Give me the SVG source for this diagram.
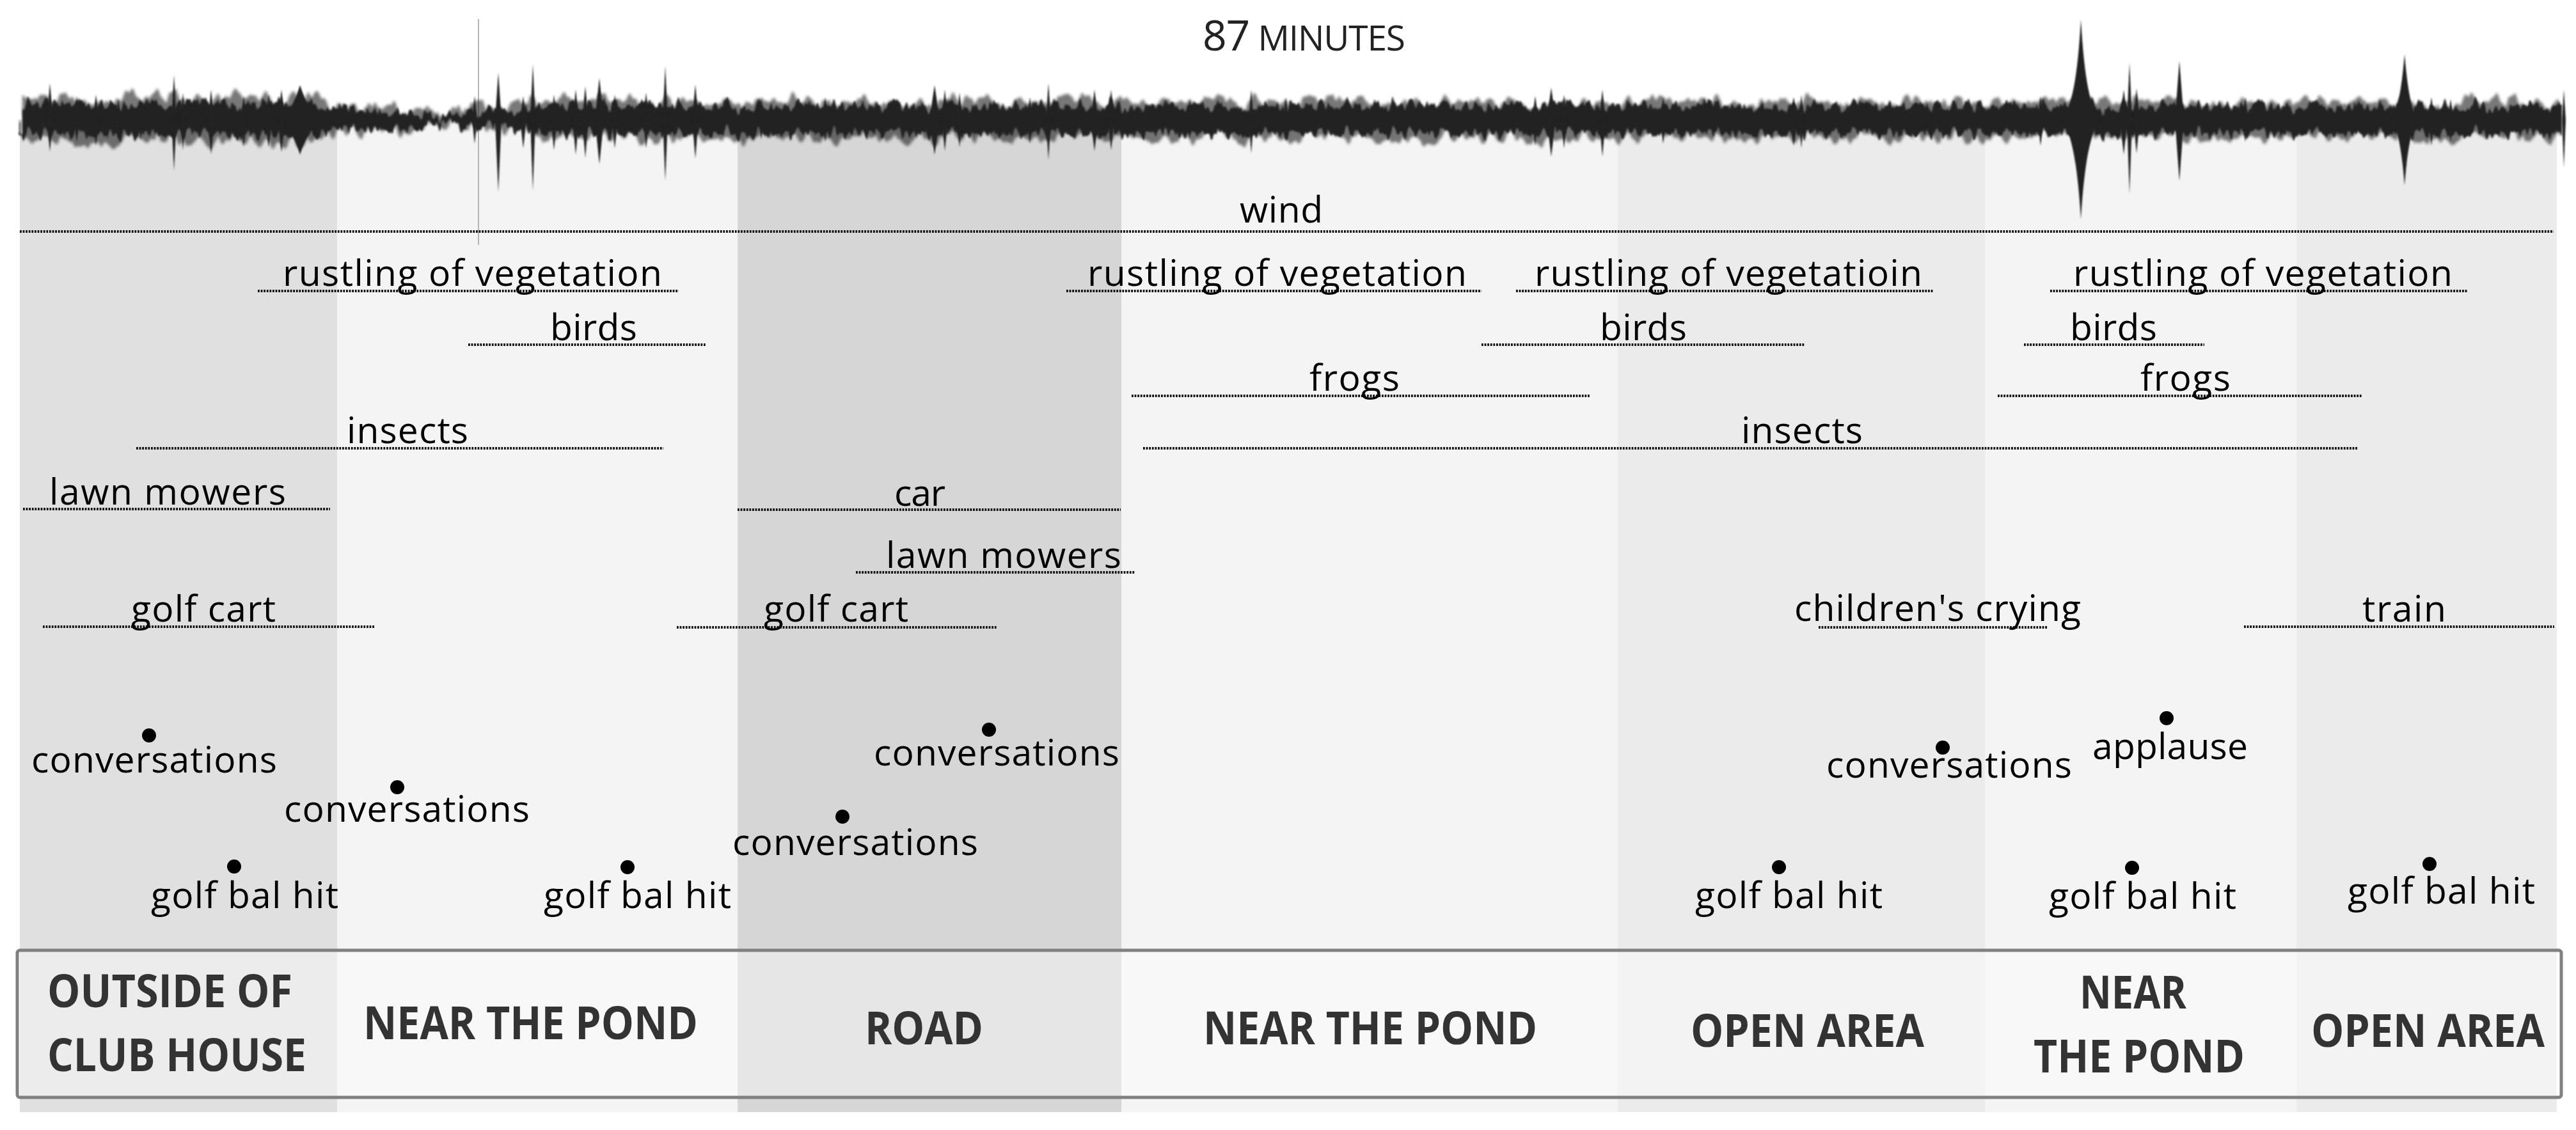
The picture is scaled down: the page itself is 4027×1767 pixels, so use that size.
<svg xmlns="http://www.w3.org/2000/svg" width="4027" height="1767" viewBox="0 0 4027 1767">
<style>
.lbl{font-family:"Open Sans","Liberation Sans",sans-serif;font-size:57px;fill:#000}
.zone{font-family:"Open Sans","Liberation Sans",sans-serif;font-weight:700;font-size:72px;fill:#333}
.dl{stroke:#111;stroke-width:4;stroke-dasharray:2.8 1.8;fill:none}
.dot{fill:#000}
.wv{fill:#222}
</style>
<defs>
<filter id="rough" filterUnits="userSpaceOnUse" x="0" y="100" width="4027" height="180">
<feTurbulence type="fractalNoise" baseFrequency="0.12 0.004" numOctaves="2" seed="7" result="n"/>
<feDisplacementMap in="SourceGraphic" in2="n" scale="40" xChannelSelector="R" yChannelSelector="G" result="d"/>
<feGaussianBlur in="d" stdDeviation="1.4"/>
</filter>
<filter id="rough2" filterUnits="userSpaceOnUse" x="0" y="100" width="4027" height="180">
<feTurbulence type="fractalNoise" baseFrequency="0.07 0.003" numOctaves="2" seed="21" result="n"/>
<feDisplacementMap in="SourceGraphic" in2="n" scale="46" xChannelSelector="R" yChannelSelector="G" result="d"/>
<feGaussianBlur in="d" stdDeviation="2.2"/>
</filter>
<filter id="soft" filterUnits="userSpaceOnUse" x="0" y="0" width="4027" height="420">
<feGaussianBlur stdDeviation="1"/>
</filter>
</defs>
<rect x="0" y="0" width="4027" height="1767" fill="#fff"/>
<g id="bands">
<rect x="31" y="187" width="496" height="1552" fill="#e0e0e0"/>
<rect x="527" y="187" width="626" height="1552" fill="#f4f4f4"/>
<rect x="1153" y="187" width="600" height="1552" fill="#d6d6d6"/>
<rect x="1753" y="187" width="776" height="1552" fill="#f4f4f4"/>
<rect x="2529" y="187" width="574" height="1552" fill="#ebebeb"/>
<rect x="3103" y="187" width="487" height="1552" fill="#f4f4f4"/>
<rect x="3590" y="187" width="407" height="1552" fill="#ebebeb"/>
</g>
<g id="waveform">
<line x1="748" y1="30" x2="748" y2="383" stroke="#b5b5b5" stroke-width="2"/>
<path class="wv" fill-opacity="0.6" filter="url(#rough2)" d="M31 154 L500 152 L520 168 L660 171 L672 178 L712 179 L725 170 L800 170 L850 158 L3990 160 L4010 162 L4010 214 L3990 214 L850 216 L800 204 L725 204 L712 196 L672 196 L660 203 L520 208 L500 222 L31 220 Z"/>
<path class="wv" filter="url(#rough)" d="M31 164 L500 162 L520 172 L660 175 L672 181 L712 182 L725 175 L800 176 L850 165 L3990 166 L4010 168 L4010 208 L3990 209 L850 209 L800 199 L725 199 L712 193 L672 193 L660 200 L520 204 L500 212 L31 210 Z"/>
<g filter="url(#soft)" class="wv">
<path d="M73 187L78 130L83 187L78 237Z"/>
<path d="M115 187L120 150L125 187L120 222Z"/>
<path d="M145 187L150 148L155 187L150 228Z"/>
<path d="M180 187L185 155L190 187L185 220Z"/>
<path d="M215 187L220 156L225 187L220 218Z"/>
<path d="M268 187L272 117L276 187L272 267Z"/>
<path d="M282 187L286 145L290 187L286 235Z"/>
<path d="M325 187L330 140L335 187L330 242Z"/>
<path d="M376 187L381 150L386 187L381 230Z"/>
<path d="M414 187L420 148L426 187L420 230Z"/>
<path d="M434 187L440 140L446 187L440 238Z"/>
<path d="M442 187C455 170 464 150 469 133C474 150 484 170 497 187C484 205 474 225 469 242C464 225 455 205 442 187Z"/>
<path d="M738 187L742 150L746 187L742 225Z"/>
<path d="M774 187L779 113L784 187L779 300Z"/>
<path d="M813 187L818 150L823 187L818 232Z"/>
<path d="M829 187L833 100L837 187L833 298Z"/>
<path d="M861 187L866 148L871 187L866 235Z"/>
<path d="M895 187L900 140L905 187L900 242Z"/>
<path d="M910 187L915 135L920 187L915 247Z"/>
<path d="M930 187L937 122L944 187L937 257Z"/>
<path d="M956 187L961 148L966 187L961 232Z"/>
<path d="M1005 187L1010 145L1015 187L1010 232Z"/>
<path d="M1036 187L1040 103L1044 187L1040 283Z"/>
<path d="M1082 187L1087 132L1092 187L1087 248Z"/>
<path d="M1185 187L1190 155L1195 187L1190 218Z"/>
<path d="M1285 187L1290 152L1295 187L1290 222Z"/>
<path d="M1453 187L1461 133L1469 187L1461 242Z"/>
<path d="M1472 187L1477 140L1482 187L1477 236Z"/>
<path d="M1495 187L1500 145L1505 187L1500 230Z"/>
<path d="M1605 187L1610 152L1615 187L1610 225Z"/>
<path d="M1635 187L1639 130L1643 187L1639 250Z"/>
<path d="M1705 187L1711 140L1717 187L1711 236Z"/>
<path d="M1732 187L1737 140L1742 187L1737 235Z"/>
<path d="M1855 187L1860 155L1865 187L1860 218Z"/>
<path d="M1952 187L1956 140L1960 187L1956 240Z"/>
<path d="M2005 187L2010 152L2015 187L2010 222Z"/>
<path d="M2395 187L2400 150L2405 187L2400 228Z"/>
<path d="M2418 187L2425 137L2432 187L2425 245Z"/>
<path d="M2440 187L2445 148L2450 187L2445 232Z"/>
<path d="M2500 187L2505 140L2510 187L2505 245Z"/>
<path d="M2595 187L2600 152L2605 187L2600 225Z"/>
<path d="M2797 187L2804 152L2811 187L2804 228Z"/>
<path d="M2812 187L2816 148L2820 187L2816 232Z"/>
<path d="M2972 187C2985 176 2990 163 2995 160C3000 163 3005 176 3018 187C3005 198 3000 212 2995 215C2990 212 2985 198 2972 187Z"/>
<path d="M3185 187L3190 150L3195 187L3190 228Z"/>
<path d="M3222 187C3239 170 3248 120 3253 30C3258 120 3267 170 3284 187C3267 206 3258 260 3253 343C3248 260 3239 206 3222 187Z"/>
<path d="M3314 187L3320 140L3326 187L3320 242Z"/>
<path d="M3325 187L3329 98L3333 187L3329 303Z"/>
<path d="M3335 187L3340 138L3345 187L3340 240Z"/>
<path d="M3400 187L3407 95L3414 187L3407 283Z"/>
<path d="M3505 187L3510 152L3515 187L3510 222Z"/>
<path d="M3738 187C3750 170 3755 130 3759 85C3763 130 3768 170 3780 187C3768 205 3763 240 3759 290C3755 240 3750 205 3738 187Z"/>
<path d="M3796 187L3801 152L3806 187L3801 228Z"/>
<path d="M3826 187L3831 155L3836 187L3831 222Z"/>
<path d="M4005 187L4008 140L4011 187L4008 262Z"/>
</g>
</g>
<g id="title">
<text x="1880" y="79" textLength="317" font-family="Open Sans, Liberation Sans, sans-serif" fill="#222"><tspan font-size="66">87</tspan><tspan font-size="55"> MINUTES</tspan></text>
</g>
<g id="connectors">
<line class="dl" x1="31" y1="362" x2="3992" y2="362"/>
<line class="dl" x1="403" y1="455" x2="1061" y2="455"/>
<line class="dl" x1="1667" y1="455" x2="2316" y2="455"/>
<line class="dl" x1="2370" y1="455" x2="3023" y2="455"/>
<line class="dl" x1="3205" y1="455" x2="3857" y2="455"/>
<line class="dl" x1="732" y1="539" x2="1104" y2="539"/>
<line class="dl" x1="2316" y1="539" x2="2822" y2="539"/>
<line class="dl" x1="3164" y1="539" x2="3446" y2="539"/>
<line class="dl" x1="1769" y1="619" x2="2486" y2="619"/>
<line class="dl" x1="3123" y1="619" x2="3693" y2="619"/>
<line class="dl" x1="213" y1="701" x2="1037" y2="701"/>
<line class="dl" x1="1787" y1="701" x2="3685" y2="701"/>
<line class="dl" x1="36" y1="796" x2="516" y2="796"/>
<line class="dl" x1="1153" y1="797" x2="1752" y2="797"/>
<line class="dl" x1="1338" y1="895" x2="1775" y2="895"/>
<line class="dl" x1="67" y1="980" x2="586" y2="980"/>
<line class="dl" x1="1058" y1="981" x2="1558" y2="981"/>
<line class="dl" x1="2843" y1="981" x2="3200" y2="981"/>
<line class="dl" x1="3508" y1="980" x2="3993" y2="980"/>
</g>
<g id="wind"><text class="lbl" x="1938" y="348" textLength="130">wind</text></g>
<g id="rustling-1"><text class="lbl" x="442" y="447" textLength="593">rustling of vegetation</text></g>
<g id="rustling-2"><text class="lbl" x="1700" y="447" textLength="593">rustling of vegetation</text></g>
<g id="rustling-3"><text class="lbl" x="2399" y="447" textLength="606">rustling of vegetatioin</text></g>
<g id="rustling-4"><text class="lbl" x="3241" y="447" textLength="593">rustling of vegetation</text></g>
<g id="birds-1"><text class="lbl" x="860" y="532" textLength="136">birds</text></g>
<g id="birds-2"><text class="lbl" x="2501" y="532" textLength="136">birds</text></g>
<g id="birds-3"><text class="lbl" x="3236" y="532" textLength="136">birds</text></g>
<g id="frogs-1"><text class="lbl" x="2047" y="611" textLength="141">frogs</text></g>
<g id="frogs-2"><text class="lbl" x="3346" y="611" textLength="141">frogs</text></g>
<g id="insects-1"><text class="lbl" x="542" y="693" textLength="190">insects</text></g>
<g id="insects-2"><text class="lbl" x="2722" y="693" textLength="190">insects</text></g>
<g id="lawn-mowers-1"><text class="lbl" x="77" y="789" textLength="370">lawn mowers</text></g>
<g id="car"><text class="lbl" x="1398" y="791" textLength="80">car</text></g>
<g id="lawn-mowers-2"><text class="lbl" x="1385" y="888" textLength="368">lawn mowers</text></g>
<g id="golf-cart-1"><text class="lbl" x="205" y="972" textLength="226">golf cart</text></g>
<g id="golf-cart-2"><text class="lbl" x="1194" y="972" textLength="226">golf cart</text></g>
<g id="childrens-crying"><text class="lbl" x="2805" y="971" textLength="448">children's crying</text></g>
<g id="train"><text class="lbl" x="3693" y="972" textLength="131">train</text></g>
<g id="conv-1"><circle class="dot" cx="233" cy="1150" r="11"/><text class="lbl" x="49" y="1208" textLength="384">conversations</text></g>
<g id="conv-2"><circle class="dot" cx="621" cy="1231" r="11"/><text class="lbl" x="444" y="1285" textLength="384">conversations</text></g>
<g id="golf-hit-1"><circle class="dot" cx="366" cy="1355" r="11"/><text class="lbl" x="236" y="1420" textLength="293">golf bal hit</text></g>
<g id="golf-hit-2"><circle class="dot" cx="981" cy="1356" r="11"/><text class="lbl" x="850" y="1420" textLength="293">golf bal hit</text></g>
<g id="conv-3"><circle class="dot" cx="1546" cy="1141" r="11"/><text class="lbl" x="1366" y="1197" textLength="384">conversations</text></g>
<g id="conv-4"><circle class="dot" cx="1317" cy="1277" r="11"/><text class="lbl" x="1145" y="1337" textLength="384">conversations</text></g>
<g id="golf-hit-3"><circle class="dot" cx="2781" cy="1356" r="11"/><text class="lbl" x="2650" y="1420" textLength="293">golf bal hit</text></g>
<g id="conv-5"><circle class="dot" cx="3037" cy="1169" r="11"/><text class="lbl" x="2855" y="1216" textLength="384">conversations</text></g>
<g id="applause"><circle class="dot" cx="3387" cy="1123" r="11"/><text class="lbl" x="3271" y="1187" textLength="243">applause</text></g>
<g id="golf-hit-4"><circle class="dot" cx="3333" cy="1357" r="11"/><text class="lbl" x="3203" y="1421" textLength="293">golf bal hit</text></g>
<g id="golf-hit-5"><circle class="dot" cx="3798" cy="1351" r="11"/><text class="lbl" x="3670" y="1413" textLength="293">golf bal hit</text></g>
<g id="zones">
<rect x="27" y="1486" width="3977" height="230" rx="4" fill="#fff" fill-opacity="0.4" stroke="#808080" stroke-width="5"/>
<g id="zone-1"><text class="zone" x="74" y="1575" textLength="383" lengthAdjust="spacingAndGlyphs">OUTSIDE OF</text><text class="zone" x="74" y="1675" textLength="405" lengthAdjust="spacingAndGlyphs">CLUB HOUSE</text></g>
<g id="zone-2"><text class="zone" x="568" y="1625" textLength="523" lengthAdjust="spacingAndGlyphs">NEAR THE POND</text></g>
<g id="zone-3"><text class="zone" x="1352" y="1633" textLength="185" lengthAdjust="spacingAndGlyphs">ROAD</text></g>
<g id="zone-4"><text class="zone" x="1881" y="1633" textLength="522" lengthAdjust="spacingAndGlyphs">NEAR THE POND</text></g>
<g id="zone-5"><text class="zone" x="2643" y="1637" textLength="365" lengthAdjust="spacingAndGlyphs">OPEN AREA</text></g>
<g id="zone-6"><text class="zone" x="3251" y="1577" textLength="167" lengthAdjust="spacingAndGlyphs">NEAR</text><text class="zone" x="3179" y="1677" textLength="330" lengthAdjust="spacingAndGlyphs">THE POND</text></g>
<g id="zone-7"><text class="zone" x="3613" y="1637" textLength="365" lengthAdjust="spacingAndGlyphs">OPEN AREA</text></g>
</g>
</svg>
